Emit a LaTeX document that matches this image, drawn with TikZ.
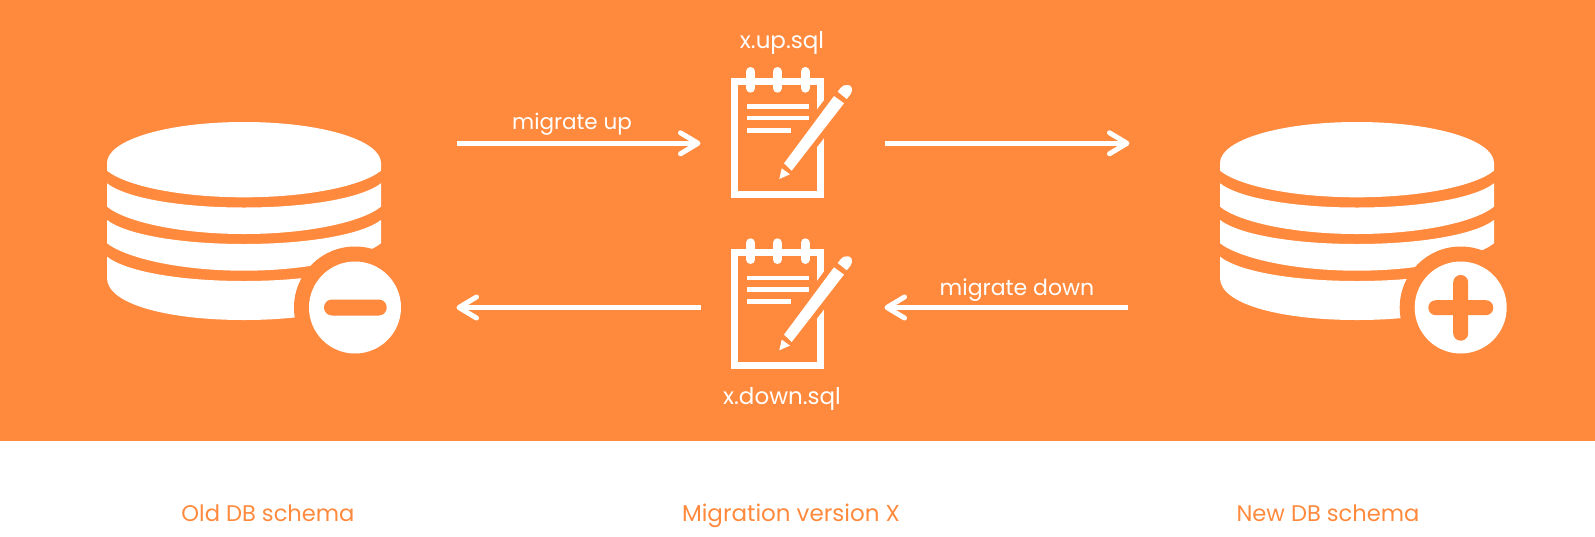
\documentclass[tikz,border=0pt]{standalone}
\usepackage{fontspec}
\setmainfont{Poppins}
\definecolor{brand}{HTML}{FF8A3D}
\tikzset{
  x=1pt,y=-1pt,
  flow/.style={white,line width=4.7pt},
  barb/.style={white,line width=5pt,line cap=round,line join=round},
  lbl/.style={white,font=\fontsize{21.5}{24}\selectfont,inner sep=0pt,anchor=base},
  filelbl/.style={white,font=\fontsize{23}{24}\selectfont,inner sep=0pt,anchor=base},
  captext/.style={brand,font=\fontsize{22.6}{24}\selectfont,inner sep=0pt,anchor=base},
}
\newcommand{\dbstack}[2]{%
\begin{scope}[shift={(#1,0)}]
  \fill[white] (107,170.7) -- (107,163) .. controls (107,140) and (167,122) .. (244,122) .. controls (321,122) and (381,140) .. (381,163) -- (381,170.7) .. controls (362,186) and (308,197.3) .. (244,197.3) .. controls (180,197.3) and (126,186) .. (107,170.7) -- cycle;
  \fill[white] (107,183.3) .. controls (126,198) and (180,207.5) .. (244,207.5) .. controls (308,207.5) and (362,198) .. (381,183.3) -- (381,206.7) .. controls (362,222) and (308,234) .. (244,234) .. controls (180,234) and (126,222) .. (107,206.7) -- cycle;
  \fill[white] (107,220) .. controls (126,234.5) and (180,244) .. (244,244) .. controls (308,244) and (362,234.5) .. (381,220) -- (381,243.3) .. controls (362,258) and (308,270.7) .. (244,270.7) .. controls (180,270.7) and (126,258) .. (107,243.3) -- cycle;
  \fill[white] (107,256.7) .. controls (126,271.5) and (180,281) .. (244,281) .. controls (308,281) and (362,271.5) .. (381,256.7) -- (381,278) .. controls (381,304) and (321,320) .. (244,320) .. controls (167,320) and (107,304) .. (107,278) -- cycle;
  \fill[brand] (#2,307.5) circle[radius=61];
  \fill[white] (#2,307.5) circle[radius=46];
\end{scope}}
\newcommand{\notepad}[1]{%
\begin{scope}[shift={(0,#1)}]
  \draw[white,line width=7pt] (734.2,81.2) rectangle (820.8,194.2);
  \draw[white,line width=9pt,line cap=round] (750.7,71.5) -- (750.7,88.2) (777.3,71.5) -- (777.3,88.2) (805,71.5) -- (805,88.2);
  \fill[white] (747,104.4) rectangle (809,109);
  \fill[white] (747,115.7) rectangle (809,120.3);
  \fill[white] (747,128) rectangle (791,132.6);
  \filldraw[draw=brand,fill=brand,line width=11pt] (784,163.3) -- (791.7,170.7) -- (844,103.3) -- (834,96) -- cycle;
  \fill[white] (784,163.3) -- (791.7,170.7) -- (844,103.3) -- (834,96) -- cycle;
  \fill[white] (837.7,91.7) -- (846.7,99) -- (850.5,94.5) .. controls (854,89) and (851,84.5) .. (847.5,85) .. controls (844.5,84.5) and (842.5,86) .. (841,87.5) -- cycle;
  \fill[white] (781.7,168.3) -- (790,174.3) -- (779.3,179) -- cycle;
\end{scope}}
\begin{document}
\begin{tikzpicture}
  \useasboundingbox (0,0) rectangle (1595,536);
  \fill[brand] (0,0) rectangle (1595,441.3);
  \dbstack{0}{355}
  \fill[brand,rounded corners=7.9pt] (324,299.5) rectangle (386.7,315.5);
  \dbstack{1113}{347.7}
  \fill[brand,rounded corners=7.4pt] (1428.3,300.2) rectangle (1493.3,315.2);
  \fill[brand,rounded corners=7.4pt] (1453.2,275) rectangle (1468.2,340.7);
  \notepad{0}
  \notepad{171.3}
  \coordinate (upa) at (457,143.3);
  \coordinate (upb) at (698,143.3);
  \coordinate (upc) at (885,143.3);
  \coordinate (upd) at (1127,143.3);
  \coordinate (dna) at (1128,307.5);
  \coordinate (dnb) at (887,307.5);
  \coordinate (dnc) at (701,307.5);
  \coordinate (dnd) at (459,307.5);
  \draw[flow] (upa) -- (upb);
  \draw[barb] (upb) ++(-17.5,-10.5) -- (upb) -- ++(-17.5,10.5);
  \draw[flow] (upc) -- (upd);
  \draw[barb] (upd) ++(-17.5,-10.5) -- (upd) -- ++(-17.5,10.5);
  \draw[flow] (dna) -- (dnb);
  \draw[barb] (dnb) ++(17.5,-10.5) -- (dnb) -- ++(17.5,10.5);
  \draw[flow] (dnc) -- (dnd);
  \draw[barb] (dnd) ++(17.5,-10.5) -- (dnd) -- ++(17.5,10.5);
  \node[lbl] (t1) at (572,129) {migrate up};
  \node[lbl,font=\fontsize{22}{24}\selectfont] (t2) at (1017,295) {migrate down};
  \node[filelbl] (t3) at (782,48) {x.up.sql};
  \node[filelbl] (t4) at (782,404) {x.down.sql};
  \node[captext] (c1) at (268,521.7) {Old DB schema};
  \node[captext,font=\fontsize{23}{24}\selectfont] (c2) at (791,521.7) {Migration version X};
  \node[captext] (c3) at (1328,521.7) {New DB schema};
\end{tikzpicture}
\end{document}
